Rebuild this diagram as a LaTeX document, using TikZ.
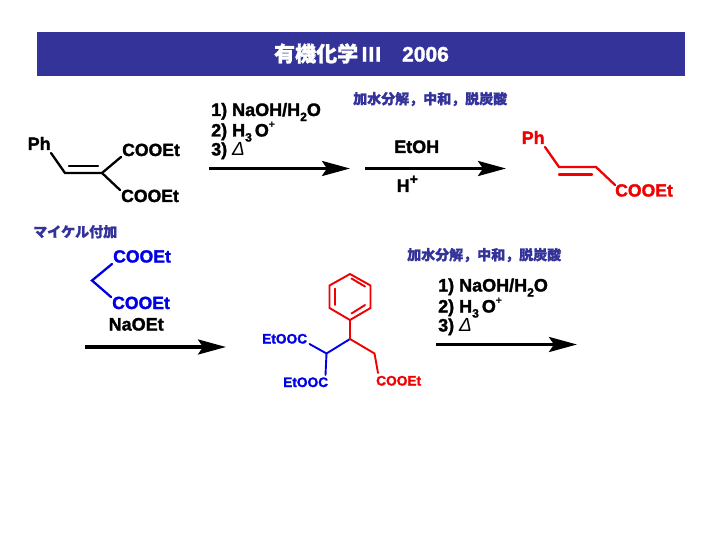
\documentclass[tikz,border=0pt]{standalone}
\usepackage{fontspec}
\setmainfont{Liberation Sans}[BoldFeatures={FakeBold=1.6}]
\newfontfamily\cjk{Noto Sans CJK JP}[BoldFeatures={FakeBold=1.2}]
\usetikzlibrary{arrows.meta}
\definecolor{banner}{HTML}{333399}
\definecolor{bluemol}{HTML}{0000E6}
\definecolor{redmol}{HTML}{F00000}
\newcommand{\fsz}[1]{\fontsize{#1}{#1}\selectfont}
\newcommand{\sbs}[1]{\raisebox{-.28em}{\fsz{12}#1}}
\newcommand{\sps}[1]{\raisebox{.5em}{\fsz{10}#1}}
\newcommand{\deltaheat}{{\normalfont\itshape\fsz{19}Δ}}
\tikzset{
  lab/.style={inner sep=0pt,anchor=base west,font=\bfseries\fsz{18}},
  coo/.style={inner sep=0pt,anchor=base west,font=\bfseries\fsz{17.6}},
  small/.style={inner sep=0pt,anchor=base west,font=\bfseries\fsz{13.7}},
  note/.style={inner sep=0pt,anchor=base west,text=banner,font=\cjk\bfseries\fsz{14}},
  bond/.style={line width=2.3pt,line join=miter,line cap=round},
  thin bond/.style={line width=1.9pt,line join=miter,line cap=round},
  rxn/.style={line width=3.2pt,-{Stealth[length=28pt,width=15pt,inset=5pt]},shorten >=-1pt},
}
\begin{document}
\begin{tikzpicture}[x=1pt,y=-1pt]
\useasboundingbox (0,0) rectangle (720,540);
\fill[white] (0,0) rectangle (720,540);
\node[fill=banner,minimum width=648pt,minimum height=44pt,inner sep=0pt,anchor=north west] (head) at (37,32) {};
\node[inner sep=0pt,text=white,font=\bfseries\fsz{21}] (title) at (361.5,53.5) {{\cjk 有機化学}\,I\kern1pt I\kern1pt I\hspace{21pt}2006};
% notes
\node[note] (n1) at (353,104) {加水分解，中和，脱炭酸};
\node[note] (n2) at (407,260) {加水分解，中和，脱炭酸};
\node[note] (n3) at (33,237) {マイケル付加};
% molecule 1
\node[lab] (ph1) at (27.5,150) {Ph};
\node[coo] (c1) at (122,156) {COOEt};
\node[coo] (c2) at (121,202) {COOEt};
\coordinate (a1) at (51,153);
\coordinate (a2) at (65,173);
\coordinate (a3) at (102,173);
\coordinate (a4) at (121,157);
\coordinate (a5) at (120,190);
\draw[bond] (a1) -- (a2) -- (a3) -- (a4) (a3) -- (a5);
\coordinate (a6) at (69,166);
\coordinate (a7) at (98,166);
\draw[bond] (a6) -- (a7);
% reagents 1
\node[lab] (r1) at (211,116) {1) NaOH/H\sbs{2}O};
\node[lab] (r2) at (211,136.5) {2) H\sbs{3}\,O\sps{+}};
\node[lab] (r3) at (211,155.5) {3) \deltaheat};
\coordinate (s1) at (209,168.5);
\coordinate (e1) at (349,168.5);
\draw[rxn] (s1) -- (e1);
% step 2
\node[lab] (etoh) at (394,153) {EtOH};
\node[lab] (hp) at (396.5,192) {H\raisebox{.45em}{\fsz{14}+}};
\coordinate (s2) at (365,168.5);
\coordinate (e2) at (505,168.5);
\draw[rxn] (s2) -- (e2);
% red product
\node[lab,text=redmol] (ph2) at (521.5,144) {Ph};
\node[coo,text=redmol] (c3) at (615,196.5) {COOEt};
\coordinate (b1) at (545,147);
\coordinate (b2) at (559,167);
\coordinate (b3) at (596,167);
\coordinate (b4) at (615,185);
\coordinate (b5) at (559,174.5);
\coordinate (b6) at (592,174.5);
\draw[bond,redmol] (b1) -- (b2) -- (b3) -- (b4);
\draw[bond,redmol] (b5) -- (b6);
% malonate
\node[coo,text=bluemol] (c4) at (113,262.5) {COOEt};
\node[coo,text=bluemol] (c5) at (112,309) {COOEt};
\node[lab] (naoet) at (108.5,330.5) {NaOEt};
\coordinate (m1) at (112,264);
\coordinate (m2) at (92,280.5);
\coordinate (m3) at (111,297);
\draw[bond,bluemol] (m1) -- (m2) -- (m3);
\coordinate (s3) at (85,347);
\coordinate (e3) at (225,347);
\draw[rxn] (s3) -- (e3);
% adduct
\node[small,text=bluemol] (d1) at (262,343.5) {EtOOC};
\node[small,text=bluemol] (d2) at (283,387) {EtOOC};
\node[small,text=redmol] (d3) at (376,385.5) {COOEt};
\coordinate (h1) at (350,274);
\coordinate (h2) at (370.5,285.5);
\coordinate (h3) at (370.5,308);
\coordinate (h4) at (350,320);
\coordinate (h5) at (329.5,308);
\coordinate (h6) at (329.5,285.5);
\draw[thin bond,redmol] (h1) -- (h2) -- (h3) -- (h4) -- (h5) -- (h6) -- cycle;
\coordinate (i1) at (351.5,278.5);
\coordinate (i2) at (365,286.5);
\coordinate (i3) at (365,305);
\coordinate (i4) at (351.5,313.5);
\coordinate (i5) at (335,288.5);
\coordinate (i6) at (335,305);
\draw[thin bond,redmol] (i1) -- (i2) (i3) -- (i4) (i5) -- (i6);
\coordinate (k1) at (350,339);
\coordinate (k2) at (374.5,353.5);
\coordinate (k3) at (378,373);
\coordinate (k4) at (326.5,353.5);
\coordinate (k5) at (309.5,344);
\coordinate (k6) at (325.5,375);
\draw[thin bond,bluemol] (k5) -- (k4) -- (k1) (k4) -- (k6);
\draw[thin bond,redmol] (h4) -- (k1) -- (k2) -- (k3);
% reagents 2
\node[lab] (r4) at (438,291.5) {1) NaOH/H\sbs{2}O};
\node[lab] (r5) at (438,312.5) {2) H\sbs{3}\,O\sps{+}};
\node[lab] (r6) at (438,331.5) {3) \deltaheat};
\coordinate (s4) at (436,344.5);
\coordinate (e4) at (576,344.5);
\draw[rxn] (s4) -- (e4);
\end{tikzpicture}
\end{document}
